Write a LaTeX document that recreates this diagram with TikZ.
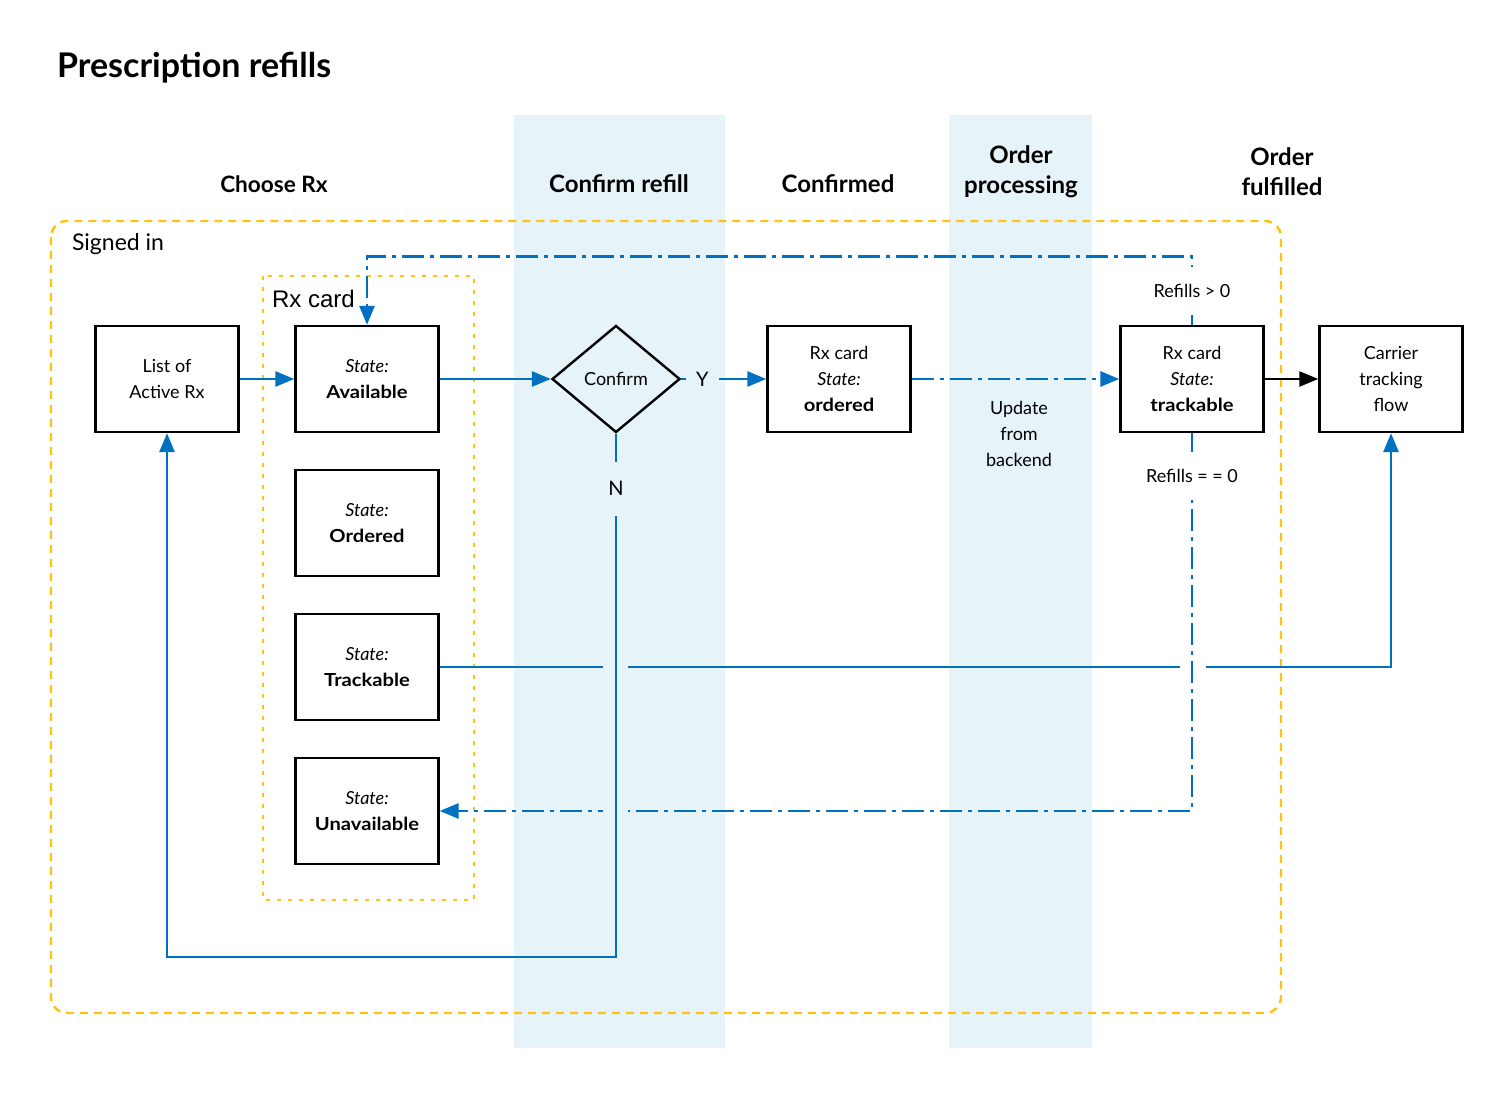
\documentclass[tikz,border=0pt]{standalone}
\usepackage{fontspec}
\setmainfont{Lato}
\newfontfamily\bwide{Lato}[FakeStretch=1.12]
\newfontfamily\arialf{Liberation Sans}
\usetikzlibrary{arrows.meta,shapes.geometric}
\definecolor{blu}{HTML}{0070C0}
\definecolor{band}{HTML}{E6F3F8}
\definecolor{yel}{HTML}{FFC20E}
\newcommand\bw[1]{{\bwide\bfseries #1}}
\begin{document}
\begin{tikzpicture}[x=0.5pt,y=-0.5pt,
  box/.style={draw=black,line width=1.2pt,minimum width=71.5pt,minimum height=53pt,align=center,
    font=\fontsize{9}{13}\selectfont,inner sep=0pt},
  hdr/.style={font=\fontsize{12}{15}\selectfont\bfseries,align=center},
  bl/.style={draw=blu,line width=1.4pt},
  dd/.style={dash pattern=on 11pt off 3pt on 2pt off 3pt},
  tip/.style={-{Triangle[length=9.5pt,width=7.5pt]}},
  lbl/.style={fill=white,inner xsep=2pt,minimum height=24pt,font=\fontsize{9}{13}\selectfont},
]
\useasboundingbox (0,0) rectangle (1512,1106);
% bands
\fill[band] (514,115) rectangle (725,1048);
\fill[band] (949,115) rectangle (1092,1048);
% title and headers
\node[anchor=west,font=\fontsize{17}{20}\selectfont\bfseries] (title) at (50,68) {Prescription refills};
\node[hdr,font=\fontsize{11.3}{15}\selectfont\bfseries] (h1) at (274,184) {Choose Rx};
\node[hdr] (h2) at (619,184) {Confirm refill};
\node[hdr] (h3) at (838,184) {Confirmed};
\node[hdr] (h4) at (1021,172) {Order\\processing};
\node[hdr] (h5) at (1282,172) {Order\\fulfilled};
% containers
\draw[yel,line width=1.2pt,dash pattern=on 4pt off 3pt,rounded corners=8pt] (51,221) rectangle (1281,1013);
\node[anchor=west,font=\fontsize{11.5}{13}\selectfont] (signed) at (65,244) {Signed in};
\draw[yel,line width=1.2pt,dash pattern=on 2pt off 3.5pt] (263,276) rectangle (474,900);
\node[anchor=west,font=\arialf\fontsize{12}{13}\selectfont] (rxlbl) at (265,299) {Rx card};
% nodes
\node[box] (list) at (167,379) {List of\\Active Rx};
\node[box] (avail) at (367,379) {\textit{State:}\\\bw{Available}};
\node[box] (stO) at (367,523) {\textit{State:}\\\bw{Ordered}};
\node[box] (stT) at (367,667) {\textit{State:}\\\bw{Trackable}};
\node[box] (stU) at (367,811) {\textit{State:}\\\bw{Unavailable}};
\node[diamond,draw=black,line width=1.2pt,minimum width=64pt,minimum height=53.5pt,inner sep=0pt,
  font=\fontsize{9}{13}\selectfont] (conf) at (616,379) {Confirm};
\node[box] (ord) at (839,379) {Rx card\\\textit{State:}\\\bw{ordered}};
\node[box] (track) at (1192,379) {Rx card\\\textit{State:}\\\bw{trackable}};
\node[box] (carrier) at (1391,379) {Carrier\\tracking\\flow};
\node[align=center,font=\fontsize{9}{13}\selectfont] (upd) at (1019,434) {Update\\from\\backend};
\coordinate (nb) at (616,957);
% connectors
\draw[bl,tip] (list) -- (avail);
\draw[bl,tip] (avail) -- (conf);
\draw[bl,tip] (conf) -- node[pos=0.25,fill=band,inner xsep=5pt,font=\fontsize{10}{12}\selectfont]{Y} (ord);
\draw[bl,dd,tip] (ord) -- (track);
\draw[black,line width=1.2pt,tip] (track) -- (carrier);
\draw[bl,tip] (stT.east) -| (carrier.south);
\fill[white] (1180,662) rectangle (1206,672);
\draw[bl,dd,tip] (track.north) -- node[lbl]{Refills > 0} ++(0,-68) -| (avail.north);
\draw[bl,dd,tip] (track.south) -- node[lbl,pos=0.113]{Refills = = 0} (track.south |- stU.east) -- (stU.east);
\fill[band] (603,662) rectangle (628,672);
\fill[band] (603,806) rectangle (628,816);
\draw[bl,tip] (conf.south) -- node[pos=0.105,fill=band,minimum height=27pt,font=\fontsize{10}{12}\selectfont]{N} (nb) -| (list.south);
\end{tikzpicture}
\end{document}
